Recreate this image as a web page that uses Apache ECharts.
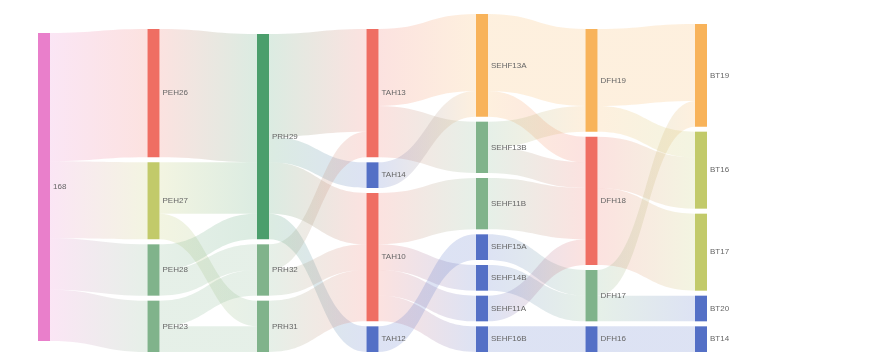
<!DOCTYPE html>
<html>
<head>
<meta charset="utf-8">
<script src="https://cdn.jsdelivr.net/npm/echarts@6/dist/echarts.min.js"></script>
<style>html,body{margin:0;padding:0;background:#fff;}#c{width:869px;height:363px;}</style>
</head>
<body>
<div id="c"></div>
<script>
const nodeNames = ['168','PEH26','PEH27','PEH28','PEH23','PRH29','PRH32','PRH31','TAH13','TAH14','TAH10','TAH12',
  'SEHF13A','SEHF13B','SEHF11B','SEHF15A','SEHF14B','SEHF11A','SEHF16B','DFH19','DFH18','DFH17','DFH16',
  'BT19','BT16','BT17','BT20','BT14'];
const nodeColors = ['#e97fcb','#ef6e63','#c2ca6a','#80b38b','#80b38b','#4b9e6c','#80b38b','#80b38b','#ef6e63','#5470c6','#ef6e63','#5470c6',
  '#f8b35a','#80b38b','#80b38b','#5470c6','#5470c6','#5470c6','#5470c6','#f8b35a','#ef6e63','#80b38b','#5470c6',
  '#f8b35a','#c2ca6a','#c2ca6a','#5470c6','#5470c6'];
const linkSources = ['168','168','168','168',
  'PEH26','PEH27','PEH27','PEH28','PEH28','PEH23','PEH23',
  'PRH29','PRH29','PRH29','PRH29','PRH32','PRH32','PRH31',
  'TAH13','TAH13','TAH14','TAH10','TAH10','TAH10','TAH10','TAH12',
  'SEHF13A','SEHF13A','SEHF13B','SEHF13B','SEHF11B','SEHF15A','SEHF14B','SEHF11A','SEHF16B',
  'DFH19','DFH19','DFH18','DFH18','DFH17','DFH17','DFH16'];
const linkTargets = ['PEH26','PEH27','PEH28','PEH23',
  'PRH29','PRH29','PRH31','PRH29','PRH32','PRH32','PRH31',
  'TAH13','TAH14','TAH10','TAH12','TAH13','TAH10','TAH10',
  'SEHF13A','SEHF13B','SEHF13A','SEHF11B','SEHF14B','SEHF11A','SEHF16B','SEHF15A',
  'DFH19','DFH18','DFH19','DFH18','DFH18','DFH17','DFH17','DFH18','DFH16',
  'BT19','BT16','BT16','BT17','BT19','BT20','BT14'];
const linkValues = [5,3,2,2,
  5,2,1,1,1,1,1,
  4,1,2,1,1,1,2,
  3,2,1,2,1,1,1,1,
  3,1,1,1,2,1,1,1,1,
  3,1,2,3,1,1,1];

const chart = echarts.init(document.getElementById('c'), null, {renderer:'canvas'});
chart.setOption({
  animation: false,
  series: [{
    type: 'sankey',
    left: 38, right: 162, top: 14, bottom: 11,
    nodeWidth: 12,
    nodeGap: 5,
    emphasis: {focus: 'adjacency'},
    data: nodeNames.map((n, i) => ({name: n, itemStyle: {color: nodeColors[i], borderWidth: 0}})),
    links: linkSources.map((s, i) => ({source: s, target: linkTargets[i], value: linkValues[i]})),
    lineStyle: {color: 'gradient', opacity: 0.2, curveness: 0.5},
    label: {fontSize: 8, color: '#666', distance: 3, fontFamily: 'sans-serif'}
  }]
});
</script>
</body>
</html>
